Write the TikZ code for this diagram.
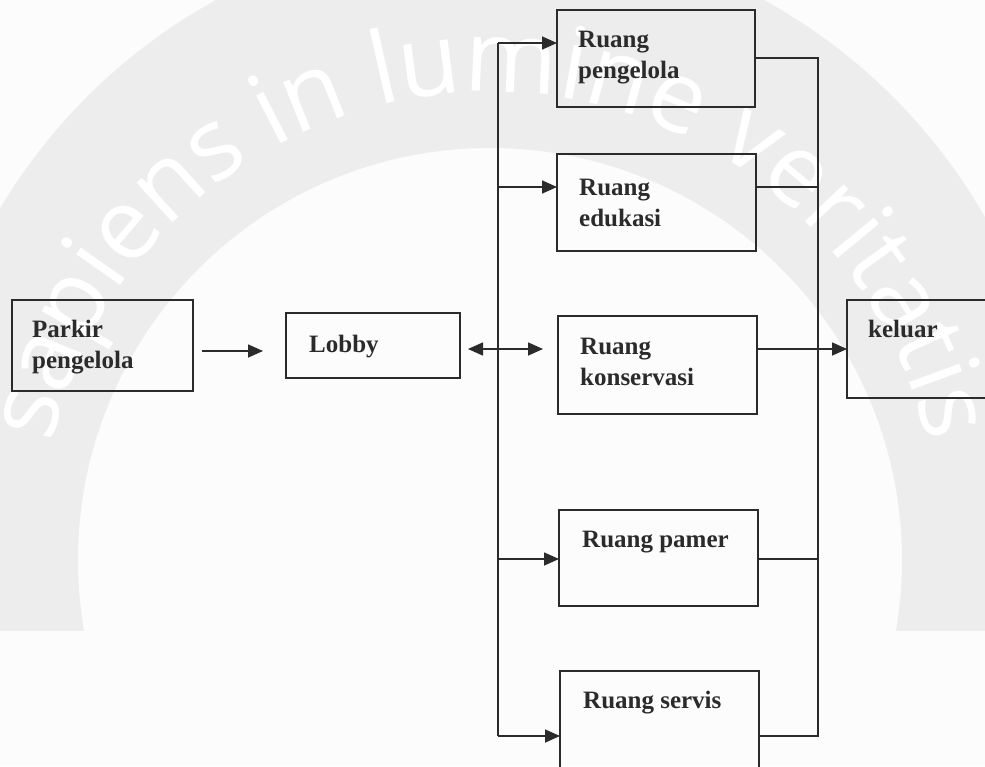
\documentclass[tikz,border=0pt]{standalone}
\usepackage{fontspec}
\setmainfont{Liberation Serif}
\newfontfamily\wmfont{Open Sans}
\usetikzlibrary{arrows.meta,decorations.text}
\definecolor{ink}{HTML}{2B2B2B}
\definecolor{wmring}{HTML}{EDEDED}
\definecolor{paper}{HTML}{FCFCFC}

\begin{document}
\begin{tikzpicture}[x=1pt,y=1pt,
  box/.style={draw=ink, line width=1.8pt, inner sep=0pt, outer sep=0pt, anchor=north west},
  % multi-line labels are placed by the baseline of their last line
  lbl/.style={anchor=base west, align=left, inner sep=0pt, text=ink,
              font=\bfseries\fontsize{25}{31}\selectfont},
  ln/.style={draw=ink, line width=1.6pt, line join=miter},
  arr/.style={ln, -{Triangle[length=15pt,width=13pt]}},
  darr/.style={ln, {Triangle[length=15pt,width=13pt]}-{Triangle[length=15pt,width=13pt]}}]
\useasboundingbox (0,0) rectangle (985,-766);
\fill[paper] (0,0) rectangle (985,-766);

% faint emblem ring with its motto
\begin{scope}
  \clip (0,0) rectangle (985,-630);
  \fill[wmring, even odd rule] (490,-500) circle[radius=570] (490,-560) circle[radius=412];
\end{scope}
\path[decorate, decoration={text along path, text color=white, text align=center,
      text={|\wmfont\fontsize{100}{110}\selectfont|sapiens in lumine veritatis}}]
  (490,-540) ++(175:448) arc[start angle=175, end angle=5, radius=448];

% boxes
\node[box, minimum width=181, minimum height=91] (park)   at (12,-300) {};
\node[box, minimum width=174, minimum height=65] (lobby)  at (286,-313) {};
\node[box, minimum width=198, minimum height=97] (rpeng)  at (557,-10) {};
\node[box, minimum width=199, minimum height=97] (redu)   at (557,-154) {};
\node[box, minimum width=199, minimum height=98] (rkon)   at (558,-316) {};
\node[box, minimum width=199, minimum height=96] (rpam)   at (559,-510) {};
\node[box, minimum width=199, minimum height=100] (rserv) at (560,-671) {};
\node[box, minimum width=160, minimum height=98] (keluar) at (847,-300) {};

% labels
\node[lbl] (park-t)   at (32,-368)  {Parkir\\pengelola};
\node[lbl] (lobby-t)  at (309,-352) {Lobby};
\node[lbl] (rpeng-t)  at (578,-78)  {Ruang\\pengelola};
\node[lbl] (redu-t)   at (579,-226) {Ruang\\edukasi};
\node[lbl] (rkon-t)   at (580,-385) {Ruang\\konservasi};
\node[lbl] (rpam-t)   at (582,-547) {Ruang pamer};
\node[lbl] (rserv-t)  at (583,-708) {Ruang servis};
\node[lbl] (keluar-t) at (868,-337) {keluar};

% junction points
\coordinate (pk1) at (202,-351);
\coordinate (pk2) at (263,-351);
\coordinate (dk1) at (468,-349);
\coordinate (dk2) at (543,-349);
\coordinate (lt) at (498,-43);
\coordinate (le) at (498,-187);
\coordinate (lp) at (498,-559);
\coordinate (lb) at (498,-736);
\coordinate (rt) at (818,-58);
\coordinate (re) at (818,-187);
\coordinate (rk) at (818,-349);
\coordinate (rp) at (818,-559);
\coordinate (rb) at (818,-736);

% connectors
\draw[arr] (pk1) -- (pk2);
\draw[ln] (lt) -- (lb);
\draw[darr] (dk1) -- (dk2);
\draw[arr] (lt) -- (lt -| rpeng.west);
\draw[arr] (le) -- (le -| redu.west);
\draw[arr] (lp) -- (lp -| rpam.west);
\draw[arr] (lb) -- (lb -| rserv.west);
\draw[ln] (rpeng.east |- rt) -- (rt) -- (rb) -- (rb -| rserv.east);
\draw[ln] (redu.east |- re) -- (re);
\draw[ln] (rpam.east |- rp) -- (rp);
\draw[arr] (rkon.east |- rk) -- (rk -| keluar.west);
\end{tikzpicture}
\end{document}
